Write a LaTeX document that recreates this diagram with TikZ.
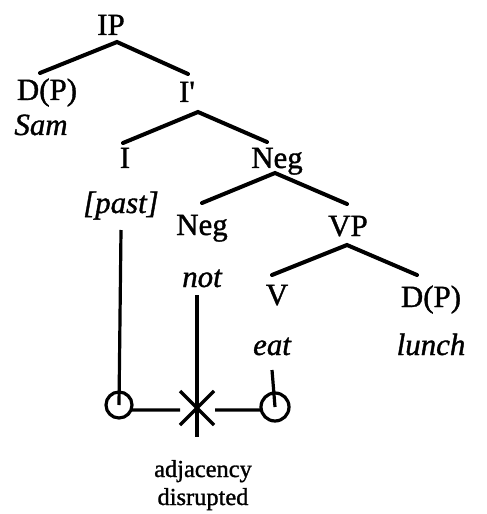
\documentclass[tikz,border=0pt]{standalone}
\usepackage{fontspec}
\setmainfont[FakeBold=1.2]{Liberation Serif}
\begin{document}
\begin{tikzpicture}[x=1bp,y=-1bp,
  lbl/.style={anchor=base,inner sep=0pt,font=\fontsize{31}{34}\selectfont},
  word/.style={lbl,font=\fontsize{31}{34}\selectfont\itshape},
  small/.style={anchor=base,inner sep=0pt,font=\fontsize{24.5}{28}\selectfont},
  branch/.style={line width=4bp,line cap=round},
  stem/.style={line width=3.2bp},
  ring/.style={line width=3.2bp}]
\useasboundingbox (0,0) rectangle (487,514);
% labels
\node[lbl] (IP) at (111,35) {IP};
\node[lbl] (DP1) at (47,100) {D(P)};
\node[word] (Sam) at (41,135) {Sam};
\node[lbl] (Ibar) at (187,102) {I\textquotesingle};
\node[lbl] (I) at (125,168) {I};
\node[word] (past) at (121,213) {[past]};
\node[lbl] (NegP) at (277,168) {Neg};
\node[lbl] (Neg) at (202,235) {Neg};
\node[word] (not) at (202,287) {not};
\node[lbl] (VP) at (348,236) {VP};
\node[lbl] (V) at (277,305) {V};
\node[lbl] (DP2) at (431,307) {D(P)};
\node[word] (eat) at (272,355) {eat};
\node[word] (lunch) at (431,355) {lunch};
\node[small] (adj) at (203,477) {adjacency};
\node[small] (dis) at (203,505) {disrupted};
% branch coordinates
\coordinate (aIP) at (117,42);
\coordinate (eDP1) at (40,73);
\coordinate (eIbar) at (188,74);
\coordinate (aIbar) at (198,112);
\coordinate (eI) at (123,143);
\coordinate (eNegP) at (267,142);
\coordinate (aNegP) at (275,173);
\coordinate (eNeg) at (202,203);
\coordinate (eVP) at (347,204);
\coordinate (aVP) at (347,245);
\coordinate (eV) at (272,275);
\coordinate (eDP2) at (417,275);
\draw[branch] (eDP1) -- (aIP) -- (eIbar);
\draw[branch] (eI) -- (aIbar) -- (eNegP);
\draw[branch] (eNeg) -- (aNegP) -- (eVP);
\draw[branch] (eV) -- (aVP) -- (eDP2);
% lower structure
\coordinate (lc) at (119,405);
\coordinate (rc) at (275,407);
\coordinate (xc) at (197,408);
\coordinate (pastTop) at (121,230);
\coordinate (notTop) at (197,295);
\coordinate (notBot) at (197,437);
\coordinate (eatTop) at (272,370);
\draw[ring] (lc) circle (13);
\draw[ring] (rc) circle (14);
\draw[stem] (pastTop) -- (lc);
\draw[stem] (eatTop) -- (rc);
\draw[stem] (notTop) -- (notBot);
\draw[stem] ([xshift=13bp,yshift=-5bp]lc) -- ([xshift=-17bp,yshift=-2bp]xc);
\draw[stem] ([xshift=18bp,yshift=-2bp]xc) -- ([xshift=-13bp,yshift=-3bp]rc);
\draw[line width=3.2bp] ([xshift=-17bp,yshift=-17bp]xc) -- ([xshift=17bp,yshift=17bp]xc);
\draw[line width=3.2bp] ([xshift=-17bp,yshift=17bp]xc) -- ([xshift=17bp,yshift=-17bp]xc);
\end{tikzpicture}
\end{document}
